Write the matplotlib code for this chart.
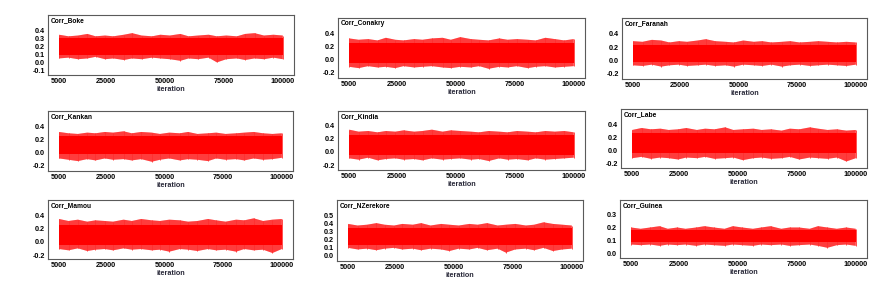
import numpy as np
import matplotlib
matplotlib.use('Agg')
from matplotlib import pyplot as plt

plt.rcParams['font.family'] = ['Liberation Sans', 'DejaVu Sans']
plt.rcParams['font.weight'] = 'bold'
plt.rcParams['hatch.linewidth'] = 0.6

# panel names (row by row)
names = ['Corr_Boke', 'Corr_Conakry', 'Corr_Faranah',
         'Corr_Kankan', 'Corr_Kindia', 'Corr_Labe',
         'Corr_Mamou', 'Corr_NZerekore', 'Corr_Guinea']

x_ticks = [5000, 25000, 50000, 75000, 100000]
x_first, x_last = 5000, 100000

# dense part of each trace (low, high)
core_lo = [0.095, -0.06, -0.03, -0.03, -0.045, -0.04, -0.045, 0.125, 0.088]
core_hi = [0.305, 0.255, 0.225, 0.245, 0.245, 0.265, 0.255, 0.34, 0.182]

# iterations where the biggest excursions were read
spike_iter = [5000, 9000, 13000, 17000, 20500, 24500, 28000, 32500, 36000,
              40000, 44500, 48000, 52000, 56500, 60000, 64000, 68500, 72000,
              76000, 80500, 84000, 88000, 92000, 96000, 100000]

spike_hi = [
    [0.35, 0.33, 0.34, 0.36, 0.33, 0.34, 0.33, 0.35, 0.37, 0.34, 0.33, 0.35, 0.34,
     0.36, 0.33, 0.34, 0.35, 0.33, 0.34, 0.33, 0.36, 0.37, 0.34, 0.35, 0.34],
    [0.32, 0.30, 0.31, 0.29, 0.33, 0.30, 0.29, 0.31, 0.30, 0.32, 0.33, 0.30, 0.34,
     0.31, 0.30, 0.29, 0.32, 0.30, 0.31, 0.30, 0.29, 0.33, 0.31, 0.29, 0.31],
    [0.29, 0.28, 0.31, 0.30, 0.27, 0.29, 0.28, 0.30, 0.32, 0.29, 0.28, 0.27, 0.30,
     0.28, 0.29, 0.27, 0.28, 0.29, 0.27, 0.28, 0.29, 0.28, 0.27, 0.28, 0.27],
    [0.31, 0.29, 0.28, 0.30, 0.29, 0.31, 0.30, 0.32, 0.29, 0.31, 0.30, 0.28, 0.30,
     0.29, 0.31, 0.28, 0.29, 0.30, 0.28, 0.29, 0.30, 0.31, 0.29, 0.28, 0.29],
    [0.33, 0.30, 0.31, 0.29, 0.31, 0.30, 0.32, 0.30, 0.31, 0.33, 0.30, 0.32, 0.31,
     0.30, 0.29, 0.31, 0.30, 0.29, 0.31, 0.30, 0.29, 0.31, 0.30, 0.31, 0.29],
    [0.31, 0.34, 0.32, 0.33, 0.31, 0.32, 0.34, 0.31, 0.33, 0.32, 0.35, 0.31, 0.32,
     0.33, 0.31, 0.32, 0.30, 0.33, 0.32, 0.35, 0.33, 0.31, 0.32, 0.30, 0.31],
    [0.34, 0.31, 0.33, 0.30, 0.32, 0.31, 0.30, 0.33, 0.31, 0.34, 0.32, 0.31, 0.33,
     0.32, 0.30, 0.31, 0.34, 0.32, 0.30, 0.33, 0.32, 0.35, 0.31, 0.33, 0.34],
    [0.39, 0.37, 0.38, 0.40, 0.38, 0.37, 0.39, 0.38, 0.40, 0.37, 0.39, 0.38, 0.37,
     0.39, 0.38, 0.40, 0.37, 0.38, 0.39, 0.37, 0.38, 0.41, 0.39, 0.38, 0.37],
    [0.20, 0.19, 0.20, 0.21, 0.19, 0.20, 0.19, 0.20, 0.21, 0.20, 0.19, 0.21, 0.20,
     0.19, 0.20, 0.21, 0.19, 0.20, 0.20, 0.19, 0.21, 0.20, 0.19, 0.20, 0.19]]

spike_lo = [
    [0.05, 0.06, 0.04, 0.05, 0.07, 0.04, 0.05, 0.03, 0.05, 0.04, 0.06, 0.05, 0.04,
     0.02, 0.05, 0.04, 0.06, 0.00, 0.04, 0.05, 0.03, 0.05, 0.04, 0.06, 0.04],
    [-0.11, -0.13, -0.10, -0.12, -0.11, -0.13, -0.10, -0.12, -0.11, -0.10, -0.12, -0.13, -0.11,
     -0.12, -0.10, -0.14, -0.11, -0.12, -0.10, -0.13, -0.11, -0.10, -0.12, -0.11, -0.10],
    [-0.08, -0.09, -0.07, -0.10, -0.08, -0.07, -0.09, -0.08, -0.07, -0.09, -0.08, -0.10, -0.07,
     -0.08, -0.09, -0.07, -0.10, -0.08, -0.07, -0.09, -0.08, -0.07, -0.08, -0.09, -0.07],
    [-0.09, -0.11, -0.13, -0.10, -0.12, -0.09, -0.11, -0.10, -0.12, -0.10, -0.14, -0.11, -0.09,
     -0.12, -0.10, -0.11, -0.13, -0.09, -0.11, -0.10, -0.12, -0.09, -0.11, -0.10, -0.08],
    [-0.10, -0.12, -0.09, -0.13, -0.11, -0.10, -0.12, -0.11, -0.13, -0.10, -0.12, -0.11, -0.10,
     -0.12, -0.11, -0.14, -0.10, -0.12, -0.11, -0.13, -0.10, -0.12, -0.11, -0.10, -0.09],
    [-0.12, -0.10, -0.13, -0.11, -0.12, -0.14, -0.11, -0.12, -0.10, -0.13, -0.12, -0.11, -0.15,
     -0.12, -0.11, -0.13, -0.12, -0.10, -0.14, -0.11, -0.12, -0.13, -0.11, -0.17, -0.12],
    [-0.11, -0.13, -0.10, -0.14, -0.12, -0.11, -0.13, -0.10, -0.12, -0.11, -0.13, -0.12, -0.15,
     -0.11, -0.12, -0.14, -0.11, -0.13, -0.12, -0.15, -0.11, -0.13, -0.12, -0.17, -0.11],
    [0.09, 0.07, 0.08, 0.06, 0.08, 0.09, 0.07, 0.08, 0.06, 0.08, 0.07, 0.05, 0.08,
     0.07, 0.09, 0.06, 0.08, 0.03, 0.07, 0.08, 0.06, 0.09, 0.05, 0.07, 0.08],
    [0.07, 0.065, 0.07, 0.06, 0.07, 0.065, 0.07, 0.06, 0.07, 0.065, 0.06, 0.07, 0.065,
     0.06, 0.07, 0.065, 0.07, 0.06, 0.065, 0.07, 0.06, 0.045, 0.065, 0.07, 0.06]]

y_lims = [(-0.16, 0.6), (-0.28, 0.63), (-0.29, 0.645),
          (-0.28, 0.627), (-0.275, 0.61), (-0.27, 0.63),
          (-0.26, 0.625), (-0.075, 0.69), (-0.033, 0.41)]
y_ticks = [[-0.1, 0.0, 0.1, 0.2, 0.3, 0.4], [-0.2, 0.0, 0.2, 0.4], [-0.2, 0.0, 0.2, 0.4],
           [-0.2, 0.0, 0.2, 0.4], [-0.2, 0.0, 0.2, 0.4], [-0.2, 0.0, 0.2, 0.4],
           [-0.2, 0.0, 0.2, 0.4], [0.0, 0.1, 0.2, 0.3, 0.4, 0.5], [0.0, 0.1, 0.2, 0.3]]

# axes boxes in pixels: left, right, top, bottom
W, H = 893, 298
boxes = [(48, 294, 15, 75), (338, 585, 18, 78), (622, 867, 18, 79),
         (48, 293, 111, 171), (338, 585, 111, 170), (621, 867, 109, 168),
         (48, 293, 200, 259), (337, 583, 200, 261), (620, 867, 200, 258)]

fig = plt.figure(figsize=(W / 100, H / 100), dpi=100)

for i in range(9):
    l, r, t, b = boxes[i]
    ax = fig.add_axes([l / W, 1 - b / H, (r - l) / W, (b - t) / H])
    # fuzzy fringe of the trace up to the extreme values
    ax.fill_between(spike_iter, spike_lo[i], spike_hi[i], facecolor='#ffd6d6',
                    edgecolor='#ff3c3c', hatch='|' * 22, lw=0, zorder=1)
    ax.vlines(spike_iter, spike_lo[i], spike_hi[i], color='#ff3030', lw=0.6, zorder=1.2)
    ax.fill_between([x_first, x_last], core_lo[i], core_hi[i], color='red', lw=0, zorder=1.5)
    ax.set_xlim(x_first - 0.05 * (x_last - x_first), x_last + 0.05 * (x_last - x_first))
    ax.set_ylim(y_lims[i])
    ax.set_xticks(x_ticks)
    ax.set_xticklabels([str(v) for v in x_ticks])
    ax.set_yticks(y_ticks[i])
    ax.set_yticklabels(['%.1f' % v for v in y_ticks[i]])
    ax.tick_params(length=0, labelsize=5.2, pad=2)
    for lab in ax.get_xticklabels() + ax.get_yticklabels():
        lab.set_fontweight('bold')
    ax.set_xlabel('iteration', fontsize=5.2, fontweight='bold', labelpad=1, color='#2a2a3a')
    for s in ax.spines.values():
        s.set_color('#5a5a5a')
        s.set_linewidth(0.8)
    ax.text(0.012, 0.97, names[i], transform=ax.transAxes, va='top', ha='left',
            fontsize=4.8, fontweight='bold')

plt.savefig('out.png', dpi=100)
